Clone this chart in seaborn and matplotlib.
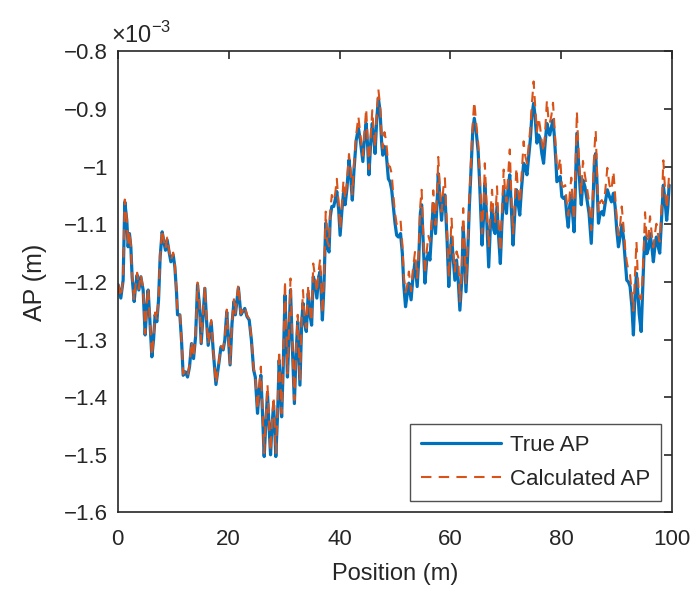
import numpy as np
import pandas as pd
import seaborn as sns
import matplotlib
matplotlib.use("Agg")
import matplotlib.pyplot as plt
from matplotlib.ticker import FuncFormatter, MultipleLocator

# values, AP in units of 1e-3 m
position = [
    0.05, 0.54, 0.96, 1.26, 1.62, 1.86, 2.1, 2.35, 2.58, 2.95, 3.2, 3.49, 3.79, 4.15, 4.57, 4.93,
    5.23, 5.47, 5.78, 6.14, 6.44, 6.73, 7.04, 7.35, 7.64, 8.0, 8.3, 8.6, 8.9, 9.2, 9.57, 9.99,
    10.29, 10.6, 10.77, 11.19, 11.49, 11.79, 12.2, 12.58, 12.94, 13.3, 13.66, 14.03, 14.38, 14.75,
    15.04, 15.4, 15.7, 16.0, 16.3, 16.85, 17.2, 17.7, 18.23, 18.6, 19.0, 19.3, 19.65, 19.9, 20.25,
    20.6, 20.95, 21.2, 21.75, 22.2, 22.5, 22.9, 23.3, 23.7, 24.1, 24.5, 24.8, 25.2, 25.5, 25.8,
    26.1, 26.4, 26.7, 27.0, 27.25, 27.55, 27.8, 28.1, 28.34, 28.5, 28.83, 29.1, 29.3, 29.55, 29.84,
    30.15, 30.38, 30.6, 30.87, 31.15, 31.46, 31.85, 32.13, 32.45, 32.85, 33.16, 33.4, 33.7, 34.0,
    34.35, 34.7, 34.96, 35.25, 35.56, 35.9, 36.23, 36.5, 36.9, 37.18, 37.5, 37.78, 38.1, 38.32,
    38.6, 38.94, 39.2, 39.5, 39.84, 40.1, 40.43, 40.7, 41.0, 41.34, 41.7, 42.0, 42.3, 42.6, 43.0,
    43.4, 43.74, 44.2, 44.46, 44.8, 45.07, 45.3, 45.61, 45.9, 46.2, 46.4, 46.7, 47.0, 47.29, 47.6,
    47.8, 48.1, 48.4, 48.8, 49.1, 49.4, 49.7, 50.0, 50.3, 50.6, 51.0, 51.32, 51.6, 51.9, 52.22,
    52.5, 52.9, 53.2, 53.6, 54.0, 54.28, 54.57, 54.8, 55.05, 55.4, 55.72, 56.01, 56.3, 56.62, 56.9,
    57.3, 57.64, 57.8, 58.12, 58.4, 58.72, 59.0, 59.39, 59.7, 59.98, 60.2, 60.52, 60.8, 61.1, 61.4,
    61.7, 62.04, 62.3, 62.5, 62.8, 63.12, 63.41, 63.7, 64.03, 64.3, 64.62, 65.0, 65.25, 65.47, 65.7,
    66.01, 66.2, 66.55, 66.9, 67.2, 67.5, 67.82, 68.05, 68.4, 68.65, 69.0, 69.26, 69.6, 69.86, 70.1,
    70.4, 70.7, 71.0, 71.3, 71.6, 71.9, 72.2, 72.5, 72.8, 73.2, 73.47, 73.8, 74.06, 74.4, 74.67,
    75.0, 75.27, 75.6, 75.9, 76.17, 76.48, 76.8, 77.08, 77.4, 77.67, 77.9, 78.21, 78.5, 78.75, 79.0,
    79.2, 79.48, 79.8, 80.09, 80.4, 80.7, 81.0, 81.25, 81.5, 81.8, 82.03, 82.3, 82.49, 82.8, 83.08,
    83.39, 83.6, 83.9, 84.26, 84.6, 85.0, 85.4, 85.68, 85.98, 86.2, 86.41, 86.7, 87.0, 87.3, 87.6,
    87.9, 88.3, 88.68, 89.04, 89.4, 89.7, 90.0, 90.3, 90.6, 90.9, 91.2, 91.52, 91.8, 92.1, 92.4,
    92.73, 93.0, 93.19, 93.55, 93.81, 94.04, 94.4, 94.64, 94.89, 95.1, 95.43, 95.72, 96.0, 96.33,
    96.6, 96.93, 97.15, 97.47, 97.75, 98.14, 98.4, 98.7, 99.0, 99.22, 99.45,
]

true_ap = [
    -1.205, -1.228, -1.197, -1.061, -1.093, -1.139, -1.116, -1.139, -1.191, -1.234, -1.208, -1.188,
    -1.214, -1.191, -1.214, -1.292, -1.243, -1.214, -1.266, -1.330, -1.301, -1.257, -1.269, -1.231,
    -1.156, -1.113, -1.130, -1.145, -1.127, -1.145, -1.165, -1.153, -1.174, -1.220, -1.257, -1.257,
    -1.301, -1.362, -1.356, -1.365, -1.347, -1.307, -1.333, -1.295, -1.205, -1.243, -1.307, -1.255,
    -1.211, -1.266, -1.310, -1.270, -1.318, -1.378, -1.341, -1.313, -1.318, -1.301, -1.252, -1.289,
    -1.344, -1.272, -1.234, -1.257, -1.210, -1.257, -1.252, -1.246, -1.260, -1.266, -1.301, -1.353,
    -1.365, -1.428, -1.388, -1.362, -1.428, -1.503, -1.445, -1.393, -1.445, -1.500, -1.451, -1.414,
    -1.463, -1.503, -1.428, -1.336, -1.371, -1.434, -1.347, -1.223, -1.289, -1.365, -1.295, -1.214,
    -1.306, -1.411, -1.330, -1.269, -1.379, -1.272, -1.237, -1.272, -1.286, -1.220, -1.260, -1.275,
    -1.191, -1.200, -1.228, -1.191, -1.182, -1.266, -1.208, -1.098, -1.139, -1.148, -1.087, -1.069,
    -1.069, -1.058, -1.043, -1.075, -1.119, -1.075, -1.046, -1.066, -1.037, -0.988, -1.017, -1.058,
    -1.006, -0.954, -0.933, -0.954, -0.991, -0.954, -0.925, -0.965, -1.014, -0.959, -0.925, -0.954,
    -0.977, -0.919, -0.881, -0.902, -0.960, -0.980, -0.965, -0.975, -1.021, -1.026, -1.040, -1.069,
    -1.098, -1.119, -1.122, -1.116, -1.150, -1.208, -1.243, -1.220, -1.202, -1.231, -1.196, -1.165,
    -1.208, -1.162, -1.081, -1.066, -1.122, -1.202, -1.162, -1.150, -1.162, -1.110, -1.064, -1.116,
    -1.052, -1.012, -1.058, -1.093, -1.052, -1.049, -1.127, -1.208, -1.150, -1.122, -1.162, -1.197,
    -1.162, -1.197, -1.249, -1.197, -1.104, -1.139, -1.217, -1.150, -1.069, -1.006, -0.937, -0.916,
    -0.937, -0.974, -1.025, -1.081, -1.136, -1.081, -1.029, -1.093, -1.174, -1.104, -1.075, -1.110,
    -1.116, -1.069, -1.116, -1.168, -1.104, -1.040, -1.063, -1.081, -1.035, -1.014, -1.075, -1.136,
    -1.081, -1.040, -1.063, -1.084, -1.040, -0.994, -1.000, -1.014, -0.988, -0.954, -0.913, -0.890,
    -0.913, -0.959, -0.945, -0.951, -0.977, -0.994, -0.959, -0.925, -0.937, -0.945, -0.931, -0.919,
    -0.948, -0.988, -1.026, -1.023, -1.017, -1.052, -1.055, -1.052, -1.085, -1.105, -1.069, -1.049,
    -1.081, -1.113, -1.052, -0.942, -0.988, -1.040, -1.066, -1.023, -1.035, -1.055, -1.081, -1.133,
    -1.069, -0.988, -0.977, -1.023, -1.098, -1.081, -1.078, -1.084, -1.064, -1.040, -1.052, -1.061,
    -1.046, -1.069, -1.110, -1.139, -1.122, -1.101, -1.122, -1.162, -1.197, -1.200, -1.208, -1.243,
    -1.292, -1.243, -1.185, -1.220, -1.255, -1.286, -1.220, -1.156, -1.122, -1.151, -1.142, -1.116,
    -1.139, -1.165, -1.133, -1.122, -1.139, -1.150, -1.081, -1.032, -1.058, -1.093, -1.069, -1.032,
]

calc_ap = [
    -1.203, -1.226, -1.195, -1.057, -1.091, -1.137, -1.112, -1.137, -1.189, -1.232, -1.206, -1.184,
    -1.212, -1.187, -1.212, -1.290, -1.241, -1.210, -1.264, -1.328, -1.299, -1.253, -1.267, -1.229,
    -1.154, -1.109, -1.128, -1.143, -1.123, -1.143, -1.163, -1.149, -1.172, -1.218, -1.255, -1.255,
    -1.299, -1.360, -1.354, -1.363, -1.345, -1.303, -1.331, -1.293, -1.201, -1.241, -1.305, -1.253,
    -1.207, -1.264, -1.308, -1.266, -1.316, -1.376, -1.339, -1.311, -1.316, -1.299, -1.248, -1.287,
    -1.342, -1.270, -1.230, -1.255, -1.204, -1.255, -1.250, -1.242, -1.258, -1.264, -1.299, -1.350,
    -1.362, -1.422, -1.382, -1.347, -1.422, -1.497, -1.439, -1.378, -1.439, -1.494, -1.445, -1.399,
    -1.457, -1.497, -1.422, -1.319, -1.365, -1.428, -1.341, -1.198, -1.283, -1.359, -1.289, -1.194,
    -1.300, -1.405, -1.324, -1.257, -1.373, -1.266, -1.214, -1.266, -1.280, -1.205, -1.254, -1.269,
    -1.168, -1.190, -1.218, -1.181, -1.160, -1.256, -1.198, -1.078, -1.129, -1.138, -1.077, -1.049,
    -1.059, -1.048, -1.021, -1.065, -1.109, -1.065, -1.024, -1.056, -1.027, -0.978, -1.007, -1.048,
    -0.996, -0.944, -0.913, -0.944, -0.981, -0.944, -0.899, -0.955, -1.004, -0.949, -0.902, -0.944,
    -0.967, -0.909, -0.866, -0.892, -0.950, -0.968, -0.940, -0.955, -0.998, -1.000, -1.012, -1.050,
    -1.080, -1.100, -1.102, -1.093, -1.135, -1.193, -1.218, -1.205, -1.182, -1.216, -1.181, -1.148,
    -1.193, -1.147, -1.066, -1.040, -1.107, -1.187, -1.147, -1.120, -1.130, -1.095, -1.041, -1.101,
    -1.037, -0.983, -1.043, -1.078, -1.037, -1.020, -1.112, -1.193, -1.135, -1.090, -1.147, -1.182,
    -1.147, -1.157, -1.234, -1.182, -1.072, -1.124, -1.202, -1.135, -1.054, -0.991, -0.922, -0.887,
    -0.922, -0.959, -1.005, -1.061, -1.116, -1.061, -0.994, -1.073, -1.140, -1.084, -1.040, -1.090,
    -1.096, -1.034, -1.096, -1.148, -1.084, -1.005, -1.043, -1.061, -1.015, -0.970, -1.055, -1.116,
    -1.061, -1.002, -1.043, -1.064, -1.020, -0.956, -0.980, -0.994, -0.968, -0.934, -0.893, -0.852,
    -0.893, -0.939, -0.915, -0.931, -0.957, -0.974, -0.939, -0.885, -0.917, -0.925, -0.911, -0.889,
    -0.928, -0.968, -1.006, -1.003, -0.985, -1.032, -1.035, -1.032, -1.065, -1.085, -1.049, -1.019,
    -1.061, -1.093, -1.032, -0.904, -0.968, -1.020, -1.046, -0.990, -1.015, -1.035, -1.061, -1.110,
    -1.049, -0.968, -0.937, -1.003, -1.078, -1.061, -1.058, -1.064, -1.044, -1.002, -1.032, -1.041,
    -1.008, -1.049, -1.090, -1.119, -1.102, -1.069, -1.102, -1.142, -1.165, -1.180, -1.188, -1.223,
    -1.250, -1.210, -1.130, -1.195, -1.225, -1.230, -1.195, -1.136, -1.079, -1.131, -1.122, -1.086,
    -1.119, -1.140, -1.113, -1.099, -1.119, -1.130, -1.061, -0.989, -1.038, -1.073, -1.049, -1.010,
]

df = pd.DataFrame({"Position": position, "True AP": true_ap, "Calculated AP": calc_ap})

sns.set_theme(style="white")
plt.rcParams["font.family"] = ["Liberation Sans", "DejaVu Sans"]
plt.rcParams["mathtext.fontset"] = "custom"
plt.rcParams["mathtext.rm"] = "Liberation Sans"

fig = plt.figure(figsize=(6.93, 5.89), dpi=100)
ax = fig.add_axes([0.170, 0.130, 0.800, 0.7826])

sns.lineplot(data=df, x="Position", y="True AP", ax=ax, color="#0072BD",
             linewidth=2.3, label="True AP", estimator=None, sort=False)
sns.lineplot(data=df, x="Position", y="Calculated AP", ax=ax, color="#D95319",
             linewidth=1.5, linestyle=(0, (5, 3.5)), label="Calculated AP",
             estimator=None, sort=False)

ax.set_xlim(0, 100)
ax.set_ylim(-1.6, -0.8)
ax.xaxis.set_major_locator(MultipleLocator(20))
ax.yaxis.set_major_locator(MultipleLocator(0.1))
ax.yaxis.set_major_formatter(FuncFormatter(lambda v, p: f"{v:g}".replace("-", "\u2212")))

for s in ax.spines.values():
    s.set_color("#262626")
    s.set_linewidth(1.2)
ax.tick_params(direction="in", length=6, width=1.2, colors="#262626",
               labelsize=16, top=True, right=True, pad=7)
ax.tick_params(axis="x", pad=12)

ax.set_xlabel("Position (m)", fontsize=17, color="#262626", labelpad=9)
ax.set_ylabel("AP (m)", fontsize=18, color="#262626", labelpad=12)
ax.text(-0.012, 1.008, r"$\times10^{-3}$", transform=ax.transAxes, fontsize=17,
        color="#262626", ha="left", va="bottom")

leg = ax.legend(loc="lower right", fontsize=16, frameon=True, fancybox=False,
                edgecolor="#262626", handlelength=3.6, borderaxespad=0.5,
                labelspacing=0.6, borderpad=0.5, handletextpad=0.4)
leg.get_frame().set_linewidth(1.0)

fig.savefig("out.png", dpi=100)
